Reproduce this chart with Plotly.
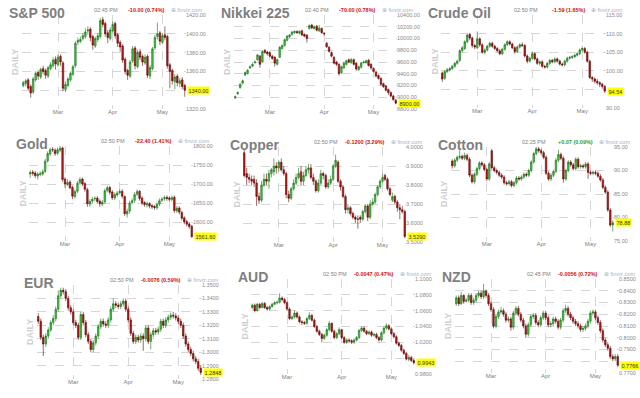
import plotly.graph_objects as go
import pandas as pd

W, H = 640, 398

# trading days (Feb 9 - May 14, 2012)
dates = [d.strftime('%Y-%m-%d') for d in pd.bdate_range('2012-02-09', '2012-05-14')
         if d.strftime('%Y-%m-%d') not in ('2012-02-20', '2012-04-06')]
month_starts = ['2012-03-01', '2012-04-02', '2012-05-01']
month_labels = ['Mar', 'Apr', 'May']

# ---------------- S&P 500 ----------------
sp_open = [1345,1347,1351,1344,1338,1351,1359,1354,1363,1361,1355,
           1363,1366,1373,1367,1376,1369,1341,1345,1351,1357,1366,
           1391,1392,1395,1397,1403,1405,1397,1387,1394,1397,1415,
           1411,1401,1395,1403,1411,1399,1391,1387,1373,1361,1355,
           1371,1385,1365,1381,1376,1369,1376,1355,1363,1385,1397,
           1401,1391,1399,1397,1367,1361,1349,1355,1347,1351,1345]
sp_high = [1350,1352,1353,1346,1354,1360,1361,1364,1366,1363,1366,
           1370,1375,1376,1378,1378,1371,1349,1354,1360,1367,1392,
           1396,1397,1401,1406,1408,1407,1399,1397,1401,1417,1418,
           1413,1404,1407,1413,1413,1401,1393,1389,1375,1363,1372,
           1387,1387,1383,1384,1378,1378,1378,1367,1386,1399,1412,
           1403,1401,1408,1399,1369,1363,1357,1357,1353,1354,1347]
sp_low = [1343,1344,1340,1332,1336,1349,1351,1352,1357,1352,1353,
          1361,1364,1362,1365,1366,1339,1338,1343,1349,1355,1364,
          1388,1390,1393,1395,1399,1392,1383,1385,1391,1395,1407,
          1397,1390,1393,1401,1395,1386,1381,1369,1357,1351,1353,
          1369,1362,1363,1372,1366,1367,1353,1352,1361,1383,1394,
          1388,1389,1393,1363,1342,1346,1341,1344,1343,1341,1333]
sp_close = [1348,1350,1342,1337,1352,1358,1355,1362,1360,1356,1364,
            1367,1372,1368,1375,1370,1342,1346,1352,1358,1365,1390,
            1393,1394,1398,1402,1404,1396,1388,1395,1398,1414,1410,
            1400,1396,1404,1410,1398,1390,1386,1372,1360,1356,1370,
            1384,1366,1380,1375,1370,1375,1356,1364,1384,1396,1400,
            1392,1398,1396,1366,1360,1350,1354,1348,1350,1344,1340]
sp_ticks = [1320, 1340, 1360, 1380, 1400, 1420]

# ---------------- Nikkei 225 ----------------
nk_open = [8990,9060,9160,9240,9380,9400,9500,9530,9590,9640,9700,
           9600,9800,9770,9760,9700,9680,9560,9680,9830,9880,9970,
           10030,10070,10100,10120,10090,10130,10070,10060,10170,10230,10170,
           10210,10130,10170,10090,9920,9850,9760,9680,9600,9560,9420,
           9500,9560,9640,9590,9640,9580,9470,9510,9590,9590,9630,
           9560,9490,9430,9370,9320,9230,9190,9130,9080,9020,8950]
nk_high = [9030,9100,9240,9300,9440,9480,9540,9580,9630,9740,9720,
           9800,9820,9790,9780,9720,9700,9660,9870,9900,10000,10060,
           10080,10130,10140,10140,10140,10150,10090,10070,10240,10250,10220,
           10230,10230,10190,10110,9940,9870,9780,9700,9620,9580,9540,
           9600,9640,9660,9670,9660,9600,9540,9600,9620,9640,9650,
           9580,9510,9450,9390,9340,9250,9210,9150,9100,9040,8970]
nk_low = [8970,9040,9150,9220,9360,9390,9480,9510,9570,9620,9500,
          9590,9740,9710,9680,9640,9520,9540,9670,9810,9860,9950,
          10010,10050,10080,10080,10070,10040,10020,9930,10150,10160,10150,
          10120,10110,10080,10050,9840,9760,9680,9560,9530,9370,9400,
          9480,9540,9580,9570,9540,9450,9450,9490,9570,9570,9520,
          9470,9420,9340,9300,9200,9160,9100,9040,9000,8940,8880]
nk_close = [9010,9080,9220,9280,9420,9460,9520,9560,9600,9720,9560,
            9780,9760,9740,9700,9660,9580,9640,9850,9880,9980,10040,
            10060,10110,10120,10100,10120,10060,10040,10000,10220,10180,10200,
            10140,10180,10100,10080,9860,9780,9700,9580,9560,9400,9520,
            9580,9620,9600,9640,9560,9480,9520,9580,9600,9620,9540,
            9500,9440,9360,9320,9220,9180,9120,9080,9020,8960,8900]
nk_ticks = [8800, 9000, 9200, 9400, 9600, 9800, 10000, 10200, 10400]

# ---------------- Crude Oil ----------------
cl_open = [99.4,98.0,99.8,100.2,100.6,101.2,102.0,102.8,105.4,106.0,107.8,
           109.8,108.8,106.8,106.2,108.6,107.0,105.0,105.6,106.6,107.4,106.6,
           106.0,105.4,104.6,105.8,107.0,107.8,107.2,106.2,105.2,106.4,107.0,
           106.8,104.0,102.6,103.4,104.6,103.2,102.0,102.4,101.2,101.0,102.0,
           102.8,102.4,103.2,102.6,101.8,101.6,102.6,103.4,103.6,103.8,104.2,
           104.6,105.6,106.0,105.0,102.6,98.2,97.8,97.2,96.8,96.4,95.8]
cl_high = [99.8,100.2,100.8,101.0,101.6,102.4,103.0,105.8,106.6,108.2,110.0,
           110.2,109.2,107.2,110.6,109.0,107.4,106.0,107.0,107.8,107.8,107.0,
           106.4,105.8,106.2,107.4,108.2,108.2,107.6,106.6,106.8,107.4,107.6,
           107.2,104.4,103.8,105.2,105.0,103.6,102.8,102.8,101.6,102.4,103.2,
           103.2,103.6,103.6,103.0,102.2,103.0,103.8,104.0,104.2,104.6,105.0,
           106.0,106.6,106.4,105.4,103.0,98.6,98.2,97.8,97.2,96.8,96.2]
cl_low = [97.0,97.6,99.4,99.8,100.2,100.8,101.6,102.4,105.0,105.6,107.4,
          108.2,106.2,105.8,105.8,106.4,104.6,104.4,105.2,106.2,106.2,105.6,
          105.0,104.2,104.2,105.4,106.6,106.8,105.8,104.6,104.8,106.0,106.4,
          103.6,102.0,102.2,103.0,102.8,101.6,101.4,100.8,100.6,100.6,101.6,
          102.0,102.0,102.2,101.4,101.2,101.2,102.2,103.0,103.2,103.4,103.8,
          104.2,105.2,104.6,102.2,97.8,97.0,96.6,96.2,95.6,95.2,94.0]
cl_close = [97.8,99.8,100.3,100.6,101.2,102.0,102.6,105.4,106.2,107.8,109.6,
            108.8,106.8,106.4,108.6,107.0,105.0,105.6,106.6,107.4,106.6,106.0,
            105.4,104.6,105.8,107.0,107.8,107.2,106.2,105.2,106.4,107.0,106.8,
            104.0,102.6,103.4,104.6,103.2,102.0,102.4,101.2,101.0,102.0,102.8,
            102.4,103.2,102.6,101.8,101.6,102.6,103.4,103.6,103.8,104.2,104.6,
            105.6,106.0,105.0,102.6,98.2,97.8,97.2,96.8,96.4,95.8,94.54]
cl_ticks = [90, 95, 100, 105, 110, 115]

# ---------------- Gold ----------------
gc_open = [1726,1731,1729,1721,1725,1726,1733,1761,1779,1791,1789,
           1781,1789,1795,1713,1699,1705,1691,1667,1681,1703,1713,
           1701,1685,1647,1655,1661,1663,1655,1647,1653,1683,1691,
           1679,1663,1671,1677,1681,1667,1621,1629,1651,1657,1673,
           1681,1663,1651,1645,1649,1643,1641,1637,1647,1657,1661,
           1665,1663,1659,1665,1629,1637,1625,1611,1601,1595,1589]
gc_high = [1736,1737,1734,1731,1733,1738,1766,1786,1796,1797,1794,
           1796,1803,1798,1718,1712,1710,1696,1686,1708,1718,1717,
           1705,1690,1660,1666,1668,1668,1660,1658,1688,1696,1695,
           1684,1678,1682,1686,1686,1670,1635,1656,1662,1678,1686,
           1684,1668,1655,1654,1652,1648,1645,1652,1662,1665,1670,
           1670,1668,1670,1670,1642,1641,1629,1615,1606,1600,1592]
gc_low = [1716,1722,1716,1712,1720,1722,1729,1756,1774,1784,1774,
          1776,1784,1706,1690,1694,1686,1660,1662,1676,1698,1694,
          1680,1640,1640,1648,1654,1648,1640,1642,1648,1678,1672,
          1658,1658,1666,1672,1662,1616,1612,1622,1646,1650,1668,
          1656,1644,1640,1638,1636,1634,1632,1632,1642,1652,1656,
          1656,1654,1654,1624,1624,1620,1604,1594,1588,1582,1558]
gc_close = [1730,1728,1722,1726,1727,1732,1760,1780,1790,1790,1780,
            1790,1794,1712,1700,1704,1690,1668,1680,1702,1712,1700,
            1686,1648,1654,1660,1662,1654,1648,1652,1682,1690,1678,
            1664,1672,1676,1680,1668,1622,1628,1650,1656,1672,1680,
            1662,1650,1646,1648,1642,1640,1638,1646,1656,1660,1664,
            1662,1660,1664,1630,1636,1626,1610,1600,1594,1588,1561.6]
gc_ticks = [1550, 1600, 1650, 1700, 1750, 1800]

# ---------------- Copper ----------------
hg_open = [3.97,3.86,3.84,3.83,3.83,3.81,3.74,3.72,3.80,3.83,3.82,
           3.86,3.87,3.90,3.89,3.92,3.88,3.86,3.75,3.73,3.78,3.81,
           3.84,3.87,3.82,3.85,3.88,3.89,3.84,3.82,3.77,3.81,3.86,
           3.85,3.79,3.81,3.83,3.90,3.92,3.82,3.79,3.74,3.67,3.68,
           3.65,3.63,3.62,3.63,3.62,3.66,3.69,3.63,3.70,3.71,3.75,
           3.79,3.82,3.85,3.83,3.78,3.72,3.74,3.71,3.68,3.67,3.66]
hg_high = [3.99,3.89,3.86,3.85,3.85,3.83,3.76,3.82,3.86,3.86,3.88,
           3.89,3.94,3.92,3.93,3.94,3.90,3.87,3.77,3.79,3.83,3.86,
           3.89,3.90,3.87,3.90,3.91,3.91,3.86,3.83,3.83,3.88,3.87,
           3.86,3.83,3.85,3.91,3.96,3.93,3.83,3.80,3.75,3.70,3.69,
           3.66,3.64,3.64,3.64,3.67,3.70,3.70,3.72,3.73,3.76,3.80,
           3.83,3.86,3.86,3.84,3.79,3.76,3.75,3.72,3.70,3.69,3.67]
hg_low = [3.84,3.80,3.81,3.80,3.79,3.69,3.70,3.71,3.79,3.80,3.78,
          3.84,3.85,3.86,3.87,3.87,3.85,3.73,3.71,3.72,3.77,3.80,
          3.83,3.80,3.80,3.84,3.86,3.83,3.80,3.76,3.76,3.80,3.83,
          3.78,3.78,3.80,3.82,3.89,3.81,3.77,3.73,3.65,3.65,3.64,
          3.62,3.60,3.57,3.60,3.61,3.65,3.61,3.62,3.69,3.70,3.74,
          3.78,3.81,3.82,3.77,3.74,3.71,3.70,3.66,3.62,3.65,3.52]
hg_close = [3.85,3.84,3.83,3.82,3.81,3.74,3.72,3.80,3.83,3.82,3.86,
            3.88,3.90,3.89,3.92,3.88,3.86,3.75,3.73,3.78,3.81,3.84,
            3.86,3.82,3.85,3.88,3.89,3.84,3.82,3.77,3.81,3.86,3.85,
            3.79,3.81,3.83,3.90,3.93,3.82,3.79,3.74,3.67,3.68,3.65,
            3.63,3.62,3.62,3.62,3.66,3.69,3.63,3.70,3.71,3.75,3.79,
            3.82,3.84,3.83,3.78,3.75,3.74,3.71,3.68,3.67,3.66,3.529]
hg_ticks = [3.5, 3.6, 3.7, 3.8, 3.9, 4.0]

# ---------------- Cotton ----------------
ct_open = [92.0,91.0,92.2,92.8,93.0,92.6,93.2,92.4,89.0,87.6,89.2,
           90.4,91.6,91.2,90.2,88.2,94.2,90.6,90.0,89.6,89.0,88.6,
           87.4,87.2,87.6,86.8,87.4,88.4,88.2,88.6,89.2,89.0,90.0,
           91.8,93.6,94.6,94.2,93.8,92.8,89.4,88.2,89.0,89.8,92.2,
           93.4,92.6,88.2,90.0,91.8,91.2,90.4,92.4,90.8,91.0,90.8,
           91.4,89.6,89.4,89.6,89.4,88.8,88.0,86.4,85.4,81.6,78.4]
ct_high = [92.4,92.6,93.2,94.3,93.4,93.8,93.6,92.8,89.4,89.6,90.8,
           92.0,92.0,91.6,90.6,91.8,94.6,91.0,90.4,90.0,89.4,89.0,
           87.8,88.0,88.0,87.8,88.8,88.8,89.0,89.6,89.6,90.4,92.2,
           94.0,95.0,95.0,94.6,94.2,93.2,89.8,89.4,90.2,92.6,94.4,
           93.8,93.0,90.4,92.2,92.2,91.6,92.8,92.8,91.4,91.4,91.8,
           91.8,90.0,90.0,90.0,89.8,89.2,88.4,86.8,85.8,82.0,79.4]
ct_low = [90.4,90.6,91.8,92.4,92.2,92.2,92.0,88.6,87.2,87.2,88.8,
          90.0,90.8,89.8,87.8,87.8,90.2,89.6,89.2,88.6,88.2,87.0,
          86.8,86.8,86.4,86.4,87.0,87.8,87.8,88.2,88.6,88.6,89.6,
          91.4,93.2,93.8,93.4,92.4,89.0,87.8,87.8,88.6,89.4,91.8,
          92.2,87.4,87.8,89.6,90.8,90.0,90.0,90.4,90.4,90.4,90.4,
          88.2,89.0,89.0,89.0,88.4,87.6,86.0,85.0,81.2,78.0,77.0]
ct_close = [91.0,92.2,92.8,93.0,92.6,93.2,92.4,89.0,87.6,89.2,90.4,
            91.6,91.2,90.2,88.2,91.4,90.6,90.0,89.6,89.0,88.6,87.4,
            87.2,87.6,86.8,87.4,88.4,88.2,88.6,89.2,89.0,90.0,91.8,
            93.6,94.6,94.2,93.8,92.8,89.4,88.2,89.0,89.8,92.2,93.4,
            92.6,88.2,90.0,91.8,91.2,90.4,92.4,90.8,91.0,90.8,91.4,
            89.6,89.4,89.6,89.4,88.8,88.0,86.4,85.4,81.6,78.4,78.88]
ct_ticks = [75, 80, 85, 90, 95]

# ---------------- EUR ----------------
eur_open = [1.3265,1.3230,1.3110,1.3060,1.3120,1.3165,1.3220,1.3250,1.3320,1.3420,1.3460,
            1.3450,1.3400,1.3330,1.3300,1.3220,1.3200,1.3110,1.3280,1.3220,1.3130,1.3080,
            1.3020,1.3070,1.3120,1.3190,1.3230,1.3210,1.3200,1.3240,1.3320,1.3360,1.3350,
            1.3340,1.3360,1.3380,1.3320,1.3240,1.3140,1.3080,1.3110,1.3090,1.3120,1.3100,
            1.3180,1.3080,1.3130,1.3160,1.3150,1.3170,1.3230,1.3200,1.3240,1.3260,1.3275,
            1.3270,1.3255,1.3230,1.3200,1.3120,1.3060,1.3020,1.2990,1.2950,1.2930,1.2880]
eur_high = [1.3290,1.3250,1.3130,1.3140,1.3185,1.3240,1.3275,1.3340,1.3460,1.3480,1.3480,
            1.3470,1.3420,1.3350,1.3320,1.3240,1.3220,1.3300,1.3300,1.3240,1.3150,1.3100,
            1.3090,1.3140,1.3210,1.3250,1.3250,1.3230,1.3260,1.3340,1.3400,1.3380,1.3370,
            1.3380,1.3400,1.3400,1.3340,1.3260,1.3160,1.3130,1.3130,1.3140,1.3140,1.3200,
            1.3200,1.3150,1.3180,1.3180,1.3190,1.3250,1.3250,1.3260,1.3280,1.3295,1.3300,
            1.3290,1.3275,1.3250,1.3220,1.3140,1.3080,1.3040,1.3010,1.2970,1.2950,1.2900]
eur_low = [1.3210,1.3090,1.2970,1.3040,1.3100,1.3150,1.3200,1.3230,1.3300,1.3400,1.3430,
           1.3380,1.3310,1.3280,1.3200,1.3180,1.3090,1.3090,1.3200,1.3110,1.3060,1.3000,
           1.3000,1.3050,1.3100,1.3170,1.3190,1.3180,1.3180,1.3220,1.3300,1.3330,1.3320,
           1.3320,1.3340,1.3300,1.3220,1.3120,1.3060,1.3060,1.3070,1.3070,1.3010,1.3080,
           1.3060,1.3020,1.3110,1.3130,1.3130,1.3150,1.3180,1.3180,1.3220,1.3240,1.3250,
           1.3235,1.3210,1.3180,1.3100,1.3040,1.3000,1.2970,1.2930,1.2910,1.2860,1.2830]
eur_close = [1.3230,1.3110,1.3060,1.3120,1.3165,1.3220,1.3250,1.3320,1.3420,1.3460,1.3450,
             1.3400,1.3330,1.3300,1.3220,1.3200,1.3110,1.3280,1.3220,1.3130,1.3080,1.3020,
             1.3070,1.3120,1.3190,1.3230,1.3210,1.3200,1.3240,1.3320,1.3360,1.3350,1.3340,
             1.3360,1.3380,1.3320,1.3240,1.3140,1.3080,1.3110,1.3090,1.3120,1.3100,1.3180,
             1.3080,1.3130,1.3160,1.3150,1.3170,1.3230,1.3200,1.3240,1.3260,1.3275,1.3270,
             1.3255,1.3230,1.3200,1.3120,1.3060,1.3020,1.2990,1.2950,1.2930,1.2880,1.2848]
eur_ticks = [1.28, 1.29, 1.30, 1.31, 1.32, 1.33, 1.34, 1.35]

# ---------------- AUD ----------------
aud_open = [1.0640,1.0670,1.0600,1.0680,1.0640,1.0690,1.0640,1.0620,1.0650,1.0680,1.0700,
            1.0705,1.0760,1.0740,1.0700,1.0620,1.0500,1.0520,1.0570,1.0520,1.0460,1.0450,
            1.0440,1.0500,1.0540,1.0480,1.0400,1.0340,1.0300,1.0250,1.0290,1.0360,1.0440,
            1.0340,1.0260,1.0310,1.0360,1.0260,1.0200,1.0230,1.0220,1.0200,1.0230,1.0260,
            1.0350,1.0380,1.0340,1.0310,1.0330,1.0290,1.0300,1.0260,1.0230,1.0320,1.0380,
            1.0410,1.0370,1.0310,1.0270,1.0190,1.0160,1.0100,1.0060,0.9985,1.0010,0.9970]
aud_high = [1.0690,1.0690,1.0700,1.0700,1.0710,1.0710,1.0660,1.0670,1.0700,1.0720,1.0730,
            1.0820,1.0780,1.0760,1.0720,1.0640,1.0540,1.0600,1.0590,1.0540,1.0480,1.0470,
            1.0520,1.0580,1.0560,1.0500,1.0420,1.0360,1.0320,1.0310,1.0380,1.0470,1.0450,
            1.0360,1.0330,1.0390,1.0370,1.0280,1.0250,1.0250,1.0240,1.0250,1.0280,1.0370,
            1.0400,1.0400,1.0360,1.0350,1.0350,1.0320,1.0320,1.0280,1.0340,1.0400,1.0440,
            1.0430,1.0390,1.0330,1.0290,1.0210,1.0180,1.0120,1.0080,1.0040,1.0030,0.9990]
aud_low = [1.0620,1.0580,1.0590,1.0620,1.0630,1.0620,1.0600,1.0600,1.0640,1.0670,1.0680,
           1.0690,1.0720,1.0680,1.0600,1.0480,1.0480,1.0500,1.0500,1.0440,1.0420,1.0420,
           1.0420,1.0480,1.0460,1.0380,1.0320,1.0280,1.0200,1.0230,1.0270,1.0340,1.0320,
           1.0240,1.0240,1.0290,1.0240,1.0180,1.0180,1.0200,1.0180,1.0180,1.0210,1.0240,
           1.0330,1.0320,1.0290,1.0290,1.0270,1.0270,1.0240,1.0210,1.0210,1.0300,1.0360,
           1.0350,1.0290,1.0250,1.0170,1.0140,1.0080,1.0040,0.9970,0.9960,0.9950,0.9920]
aud_close = [1.0670,1.0600,1.0680,1.0640,1.0690,1.0640,1.0620,1.0650,1.0680,1.0700,1.0705,
             1.0760,1.0740,1.0700,1.0620,1.0500,1.0520,1.0570,1.0520,1.0460,1.0450,1.0440,
             1.0500,1.0540,1.0480,1.0400,1.0340,1.0300,1.0250,1.0290,1.0360,1.0440,1.0340,
             1.0260,1.0310,1.0360,1.0260,1.0200,1.0230,1.0220,1.0200,1.0230,1.0260,1.0350,
             1.0380,1.0340,1.0310,1.0330,1.0290,1.0300,1.0260,1.0230,1.0320,1.0380,1.0410,
             1.0370,1.0310,1.0270,1.0190,1.0160,1.0100,1.0060,0.9990,1.0010,0.9970,0.9943]
aud_ticks = [0.98, 1.00, 1.02, 1.04, 1.06, 1.08, 1.10]

# ---------------- NZD ----------------
nzd_open = [0.8290,0.8340,0.8290,0.8360,0.8310,0.8320,0.8360,0.8300,0.8320,0.8360,0.8380,
            0.8350,0.8400,0.8360,0.8290,0.8240,0.8100,0.8180,0.8220,0.8230,0.8200,0.8150,
            0.8160,0.8090,0.8210,0.8250,0.8200,0.8150,0.8100,0.8030,0.8110,0.8180,0.8190,
            0.8130,0.8110,0.8170,0.8210,0.8170,0.8110,0.8120,0.8160,0.8140,0.8090,0.8150,
            0.8230,0.8250,0.8200,0.8170,0.8140,0.8120,0.8100,0.8070,0.8080,0.8100,0.8140,
            0.8210,0.8220,0.8170,0.8130,0.8060,0.7980,0.7940,0.7910,0.7840,0.7820,0.7840]
nzd_high = [0.8360,0.8360,0.8390,0.8370,0.8340,0.8380,0.8380,0.8340,0.8380,0.8400,0.8400,
            0.8460,0.8410,0.8380,0.8310,0.8260,0.8200,0.8240,0.8260,0.8250,0.8220,0.8180,
            0.8180,0.8230,0.8270,0.8270,0.8220,0.8170,0.8120,0.8130,0.8200,0.8210,0.8210,
            0.8150,0.8190,0.8230,0.8230,0.8190,0.8140,0.8180,0.8180,0.8160,0.8170,0.8250,
            0.8280,0.8270,0.8220,0.8190,0.8160,0.8140,0.8120,0.8100,0.8120,0.8160,0.8230,
            0.8240,0.8240,0.8190,0.8150,0.8080,0.8000,0.7960,0.7930,0.7860,0.7860,0.7860]
nzd_low = [0.8270,0.8270,0.8280,0.8290,0.8300,0.8300,0.8280,0.8280,0.8300,0.8340,0.8330,
           0.8330,0.8340,0.8270,0.8220,0.8080,0.8080,0.8160,0.8200,0.8180,0.8130,0.8130,
           0.8060,0.8070,0.8190,0.8180,0.8130,0.8080,0.8000,0.8010,0.8090,0.8160,0.8110,
           0.8090,0.8090,0.8150,0.8150,0.8090,0.8090,0.8100,0.8120,0.8070,0.8070,0.8130,
           0.8210,0.8180,0.8150,0.8120,0.8100,0.8080,0.8050,0.8050,0.8060,0.8080,0.8120,
           0.8190,0.8150,0.8110,0.8040,0.7960,0.7920,0.7890,0.7820,0.7800,0.7800,0.7750]
nzd_close = [0.8340,0.8290,0.8360,0.8310,0.8320,0.8360,0.8300,0.8320,0.8360,0.8380,0.8350,
             0.8400,0.8360,0.8290,0.8240,0.8100,0.8180,0.8220,0.8230,0.8200,0.8150,0.8160,
             0.8090,0.8210,0.8250,0.8200,0.8150,0.8100,0.8030,0.8110,0.8180,0.8190,0.8130,
             0.8110,0.8170,0.8210,0.8170,0.8110,0.8120,0.8160,0.8140,0.8090,0.8150,0.8230,
             0.8250,0.8200,0.8170,0.8140,0.8120,0.8100,0.8070,0.8080,0.8100,0.8140,0.8210,
             0.8220,0.8170,0.8130,0.8060,0.7980,0.7940,0.7910,0.7840,0.7820,0.7840,0.7766]
nzd_ticks = [0.77, 0.78, 0.79, 0.80, 0.81, 0.82, 0.83, 0.84, 0.85]

# header texts
names = ['S&P 500', 'Nikkei 225', 'Crude Oil', 'Gold', 'Copper', 'Cotton', 'EUR', 'AUD', 'NZD']
times = ['02:45 PM', '02:40 PM', '02:50 PM', '02:50 PM', '02:50 PM', '02:25 PM', '02:50 PM', '02:50 PM', '02:45 PM']
changes = ['-10.00 (0.74%)', '-70.00 (0.78%)', '-1.59 (1.65%)', '-22.40 (1.41%)', '-0.1200 (3.29%)',
           '+0.07 (0.09%)', '-0.0076 (0.59%)', '-0.0047 (0.47%)', '-0.0056 (0.72%)']
decimals = [2, 2, 2, 2, 4, 2, 4, 4, 4]

series = [
    (sp_open, sp_high, sp_low, sp_close, sp_ticks),
    (nk_open, nk_high, nk_low, nk_close, nk_ticks),
    (cl_open, cl_high, cl_low, cl_close, cl_ticks),
    (gc_open, gc_high, gc_low, gc_close, gc_ticks),
    (hg_open, hg_high, hg_low, hg_close, hg_ticks),
    (ct_open, ct_high, ct_low, ct_close, ct_ticks),
    (eur_open, eur_high, eur_low, eur_close, eur_ticks),
    (aud_open, aud_high, aud_low, aud_close, aud_ticks),
    (nzd_open, nzd_high, nzd_low, nzd_close, nzd_ticks),
]

# plot-area boxes in pixels (x0, x1, y0, y1)
boxes = [(22, 186, 15, 109), (234, 397, 15, 109), (441, 606, 15, 108),
         (29, 193, 146, 241), (243, 406, 147, 242), (451, 614, 147, 241),
         (37, 202, 285, 379), (251, 415, 279, 374), (455, 619, 279, 373)]

FONT = 'Liberation Sans, Arial, sans-serif'
GRID = '#d6d6d6'
fig = go.Figure()
annotations = []
layout = {}

for k in range(9):
    o, h, l, c, ticks = series[k]
    n = len(c)
    idx = list(range(n))
    ax = '' if k == 0 else str(k + 1)
    fig.add_trace(go.Candlestick(
        x=idx, open=o, high=h, low=l, close=c,
        xaxis='x' + ax, yaxis='y' + ax,
        increasing=dict(line=dict(color='#1d6e1d', width=0.6), fillcolor='#3ccc3c'),
        decreasing=dict(line=dict(color='#5e0a0a', width=0.6), fillcolor='#c01818'),
        whiskerwidth=0, showlegend=False, hoverinfo='skip'))

    x0, x1, y0, y1 = boxes[k]
    ms_idx = [dates.index(m) for m in month_starts]
    layout['xaxis' + ax] = dict(
        domain=[x0 / W, x1 / W], anchor='y' + ax, range=[-0.5, n - 0.5],
        tickvals=[-0.5] + ms_idx + [n - 0.5], ticktext=[''] + month_labels + [''],
        showgrid=True, gridcolor=GRID, griddash='dash', gridwidth=1,
        zeroline=False, showline=False, ticks='', ticklabelstandoff=-2,
        tickfont=dict(size=6, color='#808080', family=FONT),
        rangeslider=dict(visible=False), fixedrange=True, automargin=False)
    fmt = '{:.%df}' % decimals[k]
    # tick labels lying under the last-price box are hidden by it
    px_per_unit = (y1 - y0) / (ticks[-1] - ticks[0])
    ticktext = ['' if abs(t - c[-1]) * px_per_unit < 5 else fmt.format(t) for t in ticks]
    layout['yaxis' + ax] = dict(
        domain=[1 - y1 / H, 1 - y0 / H], anchor='x' + ax, side='right',
        range=[ticks[0], ticks[-1]], tickvals=ticks, ticktext=ticktext,
        showgrid=True, gridcolor=GRID, griddash='dash', gridwidth=1,
        zeroline=False, showline=False, ticks='', ticklabelstandoff=-1,
        tickfont=dict(size=5.5, color='#8a8a8a', family=FONT), fixedrange=True, automargin=False)

    # title
    annotations.append(dict(x=(x0 - 15) / W, y=1 - (y0 - 2) / H, xref='paper', yref='paper',
                            xanchor='left', yanchor='middle', showarrow=False,
                            text='<b>%s</b>' % names[k],
                            font=dict(size=14, color='#7f7f7f', family=FONT)))
    # DAILY
    annotations.append(dict(x=(x0 - 7) / W, y=1 - ((y0 + y1) / 2) / H, xref='paper', yref='paper',
                            xanchor='center', yanchor='middle', showarrow=False, textangle=-90,
                            text='<b>DAILY</b>', font=dict(size=9, color='#cfcfcf', family=FONT)))
    # header line
    hy = 1 - (y0 - 5) / H
    annotations.append(dict(x=(x1 - 66) / W, y=hy, xref='paper', yref='paper',
                            xanchor='right', yanchor='middle', showarrow=False,
                            text=times[k], font=dict(size=5.5, color='#808080', family=FONT)))
    chg_col = '#2e9e2e' if changes[k].startswith('+') else '#d01010'
    annotations.append(dict(x=(x1 - 19) / W, y=hy, xref='paper', yref='paper',
                            xanchor='right', yanchor='middle', showarrow=False,
                            text='<b>%s</b>' % changes[k], font=dict(size=5.5, color=chg_col, family=FONT)))
    annotations.append(dict(x=(x1 - 17) / W, y=hy, xref='paper', yref='paper',
                            xanchor='left', yanchor='middle', showarrow=False,
                            text='\u2295 finviz.com', font=dict(size=5.5, color='#9fb3c8', family=FONT)))
    # last price highlight
    annotations.append(dict(x=(x1 + 1) / W, y=c[-1], xref='paper', yref='y' + ax,
                            xanchor='left', yanchor='middle', showarrow=False,
                            text=fmt.format(c[-1]), bgcolor='#ffff00', borderpad=0.5,
                            font=dict(size=5.5, color='#333333', family=FONT)))

fig.update_layout(**layout)
fig.update_layout(width=W, height=H, margin=dict(l=0, r=0, t=0, b=0, pad=0, autoexpand=False),
                  paper_bgcolor='white', plot_bgcolor='white', showlegend=False,
                  boxgap=0.12, annotations=annotations, font=dict(family=FONT))
fig.write_html('out.html', config={'displayModeBar': False},
               post_script="document.body.style.margin='0';document.body.style.padding='0';")
